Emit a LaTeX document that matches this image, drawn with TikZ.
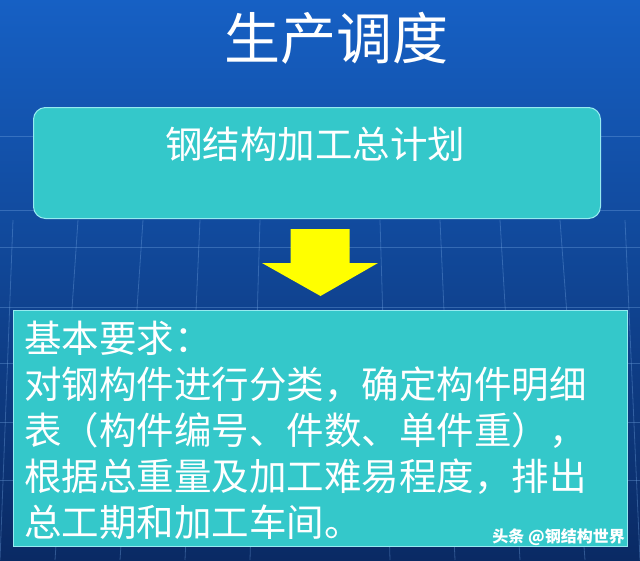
\documentclass[tikz,border=0pt]{standalone}
\usepackage{fontspec}
\setmainfont{Noto Sans CJK SC}
\usetikzlibrary{calc}
\definecolor{bgtop}{RGB}{22,96,196}
\definecolor{bgmid}{RGB}{16,78,170}
\definecolor{bgbot}{RGB}{10,42,100}
\definecolor{teal}{RGB}{52,200,202}
\definecolor{tealedge}{RGB}{150,235,240}
\definecolor{arrowyellow}{RGB}{255,255,0}
\definecolor{gridc}{RGB}{120,170,230}
\tikzset{
  gridline/.style={draw=gridc, line width=0.8pt, opacity=0.35},
  planbox/.style={fill=teal, draw=tealedge, line width=1pt, rounded corners=12pt, inner sep=0pt},
  reqbox/.style={fill=teal, draw=tealedge, line width=1pt, inner sep=0pt},
  titletext/.style={text=white, font=\fontsize{56}{60}\selectfont, inner sep=0pt},
  plantext/.style={text=white, font=\fontsize{37.5}{40}\selectfont, inner sep=0pt},
  reqtext/.style={text=white, font=\fontsize{37.5}{46}\selectfont, inner sep=0pt, align=left, anchor=north west},
  marktext/.style={text=white, font=\fontsize{16}{18}\selectfont\bfseries, inner sep=0pt, anchor=east},
  arrowfill/.style={fill=arrowyellow}
}
\begin{document}
\begin{tikzpicture}[x=1pt,y=-1pt]
\useasboundingbox (0,0) rectangle (640,560);
% background
\shade[top color=bgtop, middle color=bgmid, bottom color=bgbot] (0,0) rectangle (640,560);
% faint grid
\foreach \yy in {136,210,247,307,363,422,480} {\draw[gridline] (0,\yy) -- (640,\yy);}
\foreach \xx/\xb in {13/0,78/55,143/120,200/185,260/250,380/390,440/455,500/520,560/585,625/640} {\draw[gridline] (\xx,220) -- (\xb,560);}
% title
\node[titletext] (title) at (336,38) {生产调度};
% plan box
\node[planbox, minimum width=567pt, minimum height=111pt, anchor=north west] (plan) at (33,107) {};
\node[plantext] (plantxt) at (315,144) {钢结构加工总计划};
% requirement box
\node[reqbox, minimum width=614pt, minimum height=236pt, anchor=north west] (req) at (13,310) {};
\node[reqtext] (reqtxt) at (24,321) {基本要求：\\对钢构件进行分类，确定构件明细\\表（构件编号、件数、单件重），\\根据总重量及加工难易程度，排出\\总工期和加工车间。};
% arrow
\coordinate (atop) at ($(plan.south)+(3,10)$);
\coordinate (atip) at ($(req.north)+(0,-14)$);
\fill[arrowfill] ($(atop)+(-29.5,0)$) -- ($(atop)+(29.5,0)$) -- ($(atop)+(29.5,34)$) -- ($(atop)+(58,34)$) -- (atip) -- ($(atop)+(-58,34)$) -- ($(atop)+(-29.5,34)$) -- cycle;
% watermark
\node[marktext] (mark) at (625,537) {头条 @钢结构世界};
\end{tikzpicture}
\end{document}
